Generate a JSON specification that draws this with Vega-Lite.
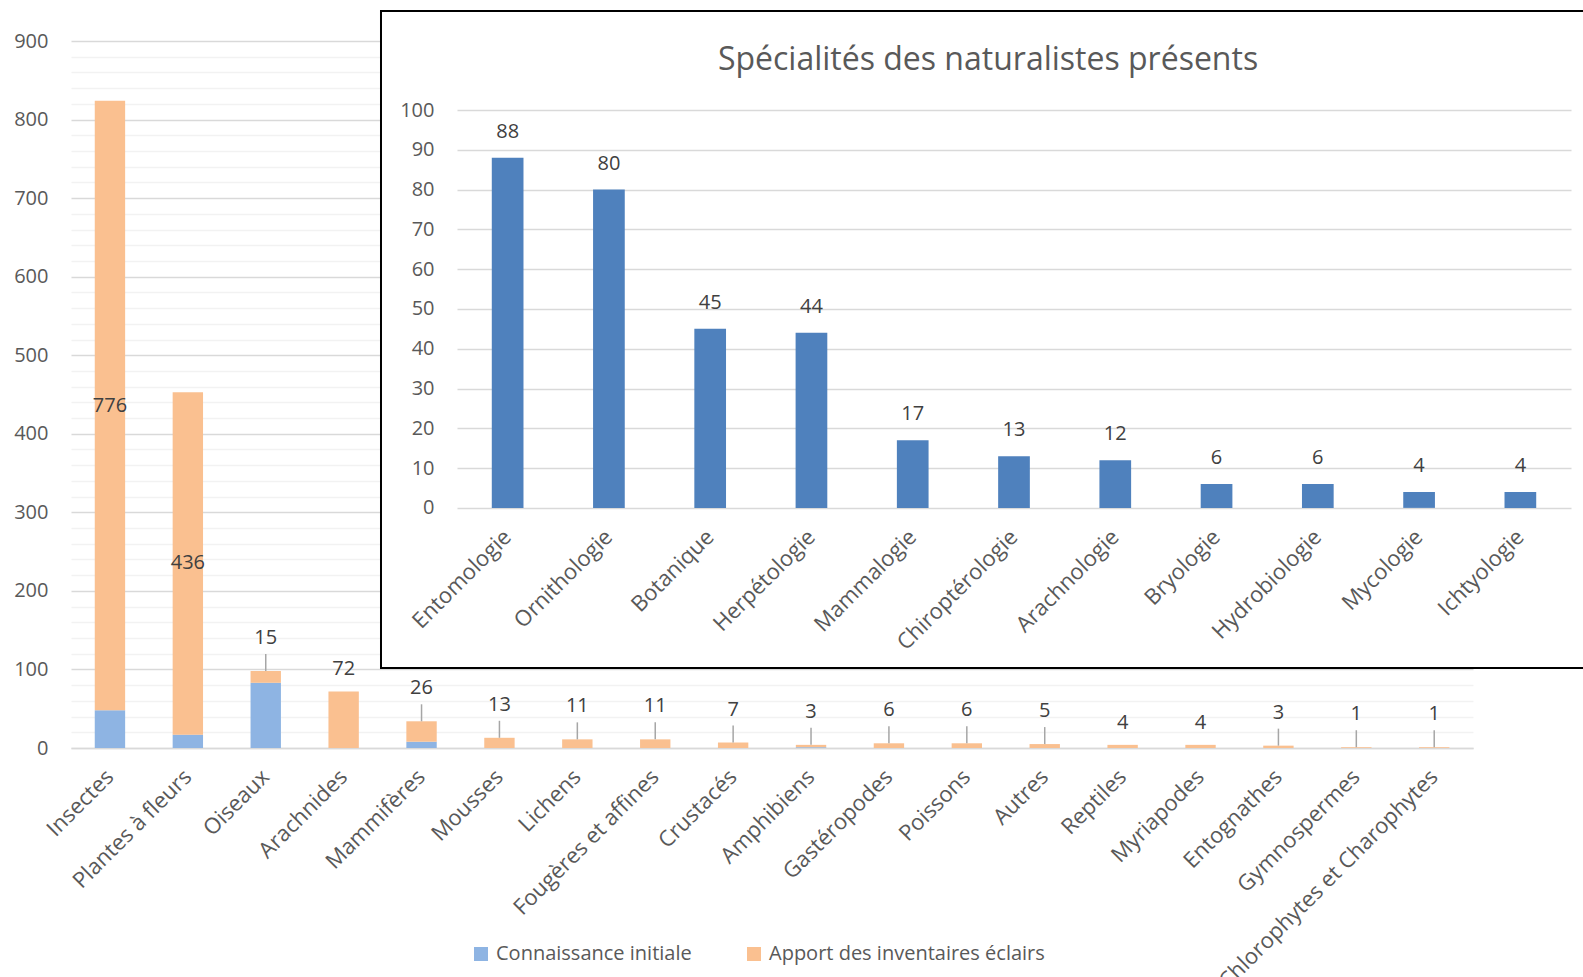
{
  "$schema": "https://vega.github.io/schema/vega-lite/v6.json",
  "width": 1512,
  "height": 737,
  "autosize": "none",
  "padding": {"left": 71, "top": 11, "right": 0, "bottom": 229},
  "config": {
    "view": {"stroke": null},
    "font": "Open Sans",
    "axis": {"labelFont": "Open Sans"},
    "legend": {"labelFont": "Open Sans"},
    "title": {"font": "Open Sans"}
  },
  "title": {"text": "Spécialités des naturalistes présents", "frame": "group", "anchor": "middle", "offset": -67, "dx": 161, "fontSize": 32, "fontWeight": "normal", "color": "#595959"},
  "datasets": {
    "groupes": [
      {"groupe": "Insectes", "serie": "Connaissance initiale", "n": 48},
      {"groupe": "Insectes", "serie": "Apport des inventaires éclairs", "n": 776},
      {"groupe": "Plantes à fleurs", "serie": "Connaissance initiale", "n": 17},
      {"groupe": "Plantes à fleurs", "serie": "Apport des inventaires éclairs", "n": 436},
      {"groupe": "Oiseaux", "serie": "Connaissance initiale", "n": 83},
      {"groupe": "Oiseaux", "serie": "Apport des inventaires éclairs", "n": 15},
      {"groupe": "Arachnides", "serie": "Connaissance initiale", "n": 0},
      {"groupe": "Arachnides", "serie": "Apport des inventaires éclairs", "n": 72},
      {"groupe": "Mammifères", "serie": "Connaissance initiale", "n": 8},
      {"groupe": "Mammifères", "serie": "Apport des inventaires éclairs", "n": 26},
      {"groupe": "Mousses", "serie": "Connaissance initiale", "n": 0},
      {"groupe": "Mousses", "serie": "Apport des inventaires éclairs", "n": 13},
      {"groupe": "Lichens", "serie": "Connaissance initiale", "n": 0},
      {"groupe": "Lichens", "serie": "Apport des inventaires éclairs", "n": 11},
      {"groupe": "Fougères et affines", "serie": "Connaissance initiale", "n": 0},
      {"groupe": "Fougères et affines", "serie": "Apport des inventaires éclairs", "n": 11},
      {"groupe": "Crustacés", "serie": "Connaissance initiale", "n": 0},
      {"groupe": "Crustacés", "serie": "Apport des inventaires éclairs", "n": 7},
      {"groupe": "Amphibiens", "serie": "Connaissance initiale", "n": 1},
      {"groupe": "Amphibiens", "serie": "Apport des inventaires éclairs", "n": 3},
      {"groupe": "Gastéropodes", "serie": "Connaissance initiale", "n": 0},
      {"groupe": "Gastéropodes", "serie": "Apport des inventaires éclairs", "n": 6},
      {"groupe": "Poissons", "serie": "Connaissance initiale", "n": 0},
      {"groupe": "Poissons", "serie": "Apport des inventaires éclairs", "n": 6},
      {"groupe": "Autres", "serie": "Connaissance initiale", "n": 0},
      {"groupe": "Autres", "serie": "Apport des inventaires éclairs", "n": 5},
      {"groupe": "Reptiles", "serie": "Connaissance initiale", "n": 0},
      {"groupe": "Reptiles", "serie": "Apport des inventaires éclairs", "n": 4},
      {"groupe": "Myriapodes", "serie": "Connaissance initiale", "n": 0},
      {"groupe": "Myriapodes", "serie": "Apport des inventaires éclairs", "n": 4},
      {"groupe": "Entognathes", "serie": "Connaissance initiale", "n": 0},
      {"groupe": "Entognathes", "serie": "Apport des inventaires éclairs", "n": 3},
      {"groupe": "Gymnospermes", "serie": "Connaissance initiale", "n": 0},
      {"groupe": "Gymnospermes", "serie": "Apport des inventaires éclairs", "n": 1},
      {"groupe": "Chlorophytes et Charophytes", "serie": "Connaissance initiale", "n": 0},
      {"groupe": "Chlorophytes et Charophytes", "serie": "Apport des inventaires éclairs", "n": 1}
    ],
    "specialites": [
      {"specialite": "Entomologie", "n": 88},
      {"specialite": "Ornithologie", "n": 80},
      {"specialite": "Botanique", "n": 45},
      {"specialite": "Herpétologie", "n": 44},
      {"specialite": "Mammalogie", "n": 17},
      {"specialite": "Chiroptérologie", "n": 13},
      {"specialite": "Arachnologie", "n": 12},
      {"specialite": "Bryologie", "n": 6},
      {"specialite": "Hydrobiologie", "n": 6},
      {"specialite": "Mycologie", "n": 4},
      {"specialite": "Ichtyologie", "n": 4}
    ]
  },
  "layer": [
    {
      "data": {"name": "groupes"},
      "layer": [
        {
          "mark": {"type": "bar", "width": {"band": 0.39}},
          "encoding": {
            "x": {
              "field": "groupe", "type": "nominal", "sort": null,
              "scale": {
                "domain": ["Insectes", "Plantes à fleurs", "Oiseaux", "Arachnides", "Mammifères", "Mousses", "Lichens", "Fougères et affines", "Crustacés", "Amphibiens", "Gastéropodes", "Poissons", "Autres", "Reptiles", "Myriapodes", "Entognathes", "Gymnospermes", "Chlorophytes et Charophytes"],
                "paddingInner": 0, "paddingOuter": 0.705, "align": 0
              },
              "axis": {"title": null, "orient": "bottom", "labelAngle": -45, "labelBaseline": "middle", "labelFontSize": 22, "labelColor": "#595959", "labelPadding": 25, "ticks": false, "domainColor": "#d9d9d9", "domainWidth": 1.5, "domainDash": [1402, 2000], "labelLimit": 400, "labelOverlap": false}
            },
            "y": {
              "field": "n", "type": "quantitative", "stack": "zero",
              "scale": {"domain": [0, 938.2], "nice": false},
              "axis": {
                "title": null, "orient": "left",
                "values": [0,20,40,60,80,100,120,140,160,180,200,220,240,260,280,300,320,340,360,380,400,420,440,460,480,500,520,540,560,580,600,620,640,660,680,700,720,740,760,780,800,820,840,860,880,900],
                "tickCount": 200,
                "grid": true,
                "gridColor": {"condition": {"test": "datum.value % 100 === 0", "value": "#d9d9d9"}, "value": "#f2f2f2"},
                "gridDash": {"condition": {"test": "datum.value > 100", "value": [310, 2000]}, "value": [1402, 2000]},
                "gridWidth": 1.3,
                "labelExpr": "datum.value % 100 === 0 ? datum.label : ''",
                "labelOverlap": false,
                "labelFontSize": 20, "labelColor": "#595959", "labelPadding": 23,
                "domain": false, "ticks": false
              }
            },
            "color": {
              "field": "serie", "type": "nominal",
              "sort": ["Connaissance initiale", "Apport des inventaires éclairs"],
              "scale": {"domain": ["Connaissance initiale", "Apport des inventaires éclairs"], "range": ["#8eb4e3", "#fac090"]},
              "legend": {"title": null, "orient": "none", "legendX": 400, "legendY": 933, "direction": "horizontal", "symbolType": "square", "symbolSize": 196, "symbolStrokeWidth": 0, "labelFontSize": 20, "labelColor": "#595959", "labelLimit": 400, "columnPadding": 52, "labelOffset": 5, "padding": 0}
            },
            "order": {"field": "serie", "sort": "descending"}
          }
        },
        {
          "transform": [
            {"joinaggregate": [{"op": "sum", "field": "n", "as": "total"}], "groupby": ["groupe"]},
            {"filter": "datum.serie === 'Apport des inventaires éclairs' && indexof(['Insectes','Plantes à fleurs','Arachnides','Reptiles','Myriapodes'], datum.groupe) < 0"}
          ],
          "mark": {"type": "rule", "color": "#a6a6a6", "strokeWidth": 1.5, "y2Offset": -17},
          "encoding": {
            "x": {"field": "groupe", "type": "nominal", "sort": null},
            "y": {"field": "total", "type": "quantitative"},
            "y2": {"field": "total"}
          }
        },
        {
          "transform": [
            {"joinaggregate": [{"op": "sum", "field": "n", "as": "total"}], "groupby": ["groupe"]},
            {"filter": "datum.serie === 'Apport des inventaires éclairs' && indexof(['Insectes','Plantes à fleurs','Arachnides','Reptiles','Myriapodes'], datum.groupe) < 0"}
          ],
          "mark": {"type": "text", "baseline": "middle", "dy": -33, "fontSize": 20, "color": "#404040"},
          "encoding": {
            "x": {"field": "groupe", "type": "nominal", "sort": null},
            "y": {"field": "total", "type": "quantitative"},
            "text": {"field": "n", "type": "quantitative"}
          }
        },
        {
          "transform": [
            {"joinaggregate": [{"op": "sum", "field": "n", "as": "total"}], "groupby": ["groupe"]},
            {"filter": "datum.serie === 'Apport des inventaires éclairs' && indexof(['Arachnides','Reptiles','Myriapodes'], datum.groupe) >= 0"}
          ],
          "mark": {"type": "text", "baseline": "middle", "dy": -22, "fontSize": 20, "color": "#404040"},
          "encoding": {
            "x": {"field": "groupe", "type": "nominal", "sort": null},
            "y": {"field": "total", "type": "quantitative"},
            "text": {"field": "n", "type": "quantitative"}
          }
        },
        {
          "transform": [
            {"filter": "datum.groupe === 'Insectes' || datum.groupe === 'Plantes à fleurs'"},
            {"stack": "n", "groupby": ["groupe"], "sort": [{"field": "serie", "order": "descending"}], "as": ["v0", "v1"]},
            {"filter": "datum.serie === 'Apport des inventaires éclairs'"},
            {"fold": ["v0", "v1"], "as": ["k", "pos"]}
          ],
          "mark": {"type": "text", "baseline": "middle", "fontSize": 20, "color": "#404040"},
          "encoding": {
            "x": {"field": "groupe", "type": "nominal", "sort": null},
            "y": {"aggregate": "mean", "field": "pos", "type": "quantitative"},
            "text": {"aggregate": "max", "field": "n", "type": "quantitative"}
          }
        }
      ]
    },
    {
      "data": {"name": "specialites"},
      "layer": [
        {
          "mark": {"type": "bar", "width": {"band": 0.313}, "color": "#4f81bd"},
          "encoding": {
            "x": {
              "field": "specialite", "type": "nominal", "sort": null,
              "scale": {
                "domain": ["Entomologie", "Ornithologie", "Botanique", "Herpétologie", "Mammalogie", "Chiroptérologie", "Arachnologie", "Bryologie", "Hydrobiologie", "Mycologie", "Ichtyologie"],
                "range": [386, 1500],
                "paddingInner": 0, "paddingOuter": 0
              },
              "axis": {"title": null, "orient": "bottom", "offset": -240, "labelAngle": -45, "labelBaseline": "middle", "labelFontSize": 22, "labelColor": "#595959", "labelPadding": 25, "ticks": false, "domain": false, "labelLimit": 400, "labelOverlap": false}
            },
            "y": {
              "field": "n", "type": "quantitative",
              "scale": {"domain": [-60.35, 124.89], "nice": false},
              "axis": {"title": null, "orient": "left", "offset": -386, "values": [0,10,20,30,40,50,60,70,80,90,100], "tickCount": 200, "grid": true, "gridColor": "#d9d9d9", "gridWidth": 1.3, "labelPadding": 23, "labelFontSize": 20, "labelColor": "#595959", "domain": false, "ticks": false, "labelOverlap": false}
            }
          }
        },
        {
          "mark": {"type": "text", "baseline": "middle", "dy": -26, "fontSize": 20, "color": "#404040"},
          "encoding": {
            "x": {"field": "specialite", "type": "nominal", "sort": null},
            "y": {"field": "n", "type": "quantitative"},
            "text": {"field": "n", "type": "quantitative"}
          }
        },
        {
          "transform": [{"aggregate": [{"op": "count", "as": "c"}]}],
          "mark": {"type": "rect", "fill": "white", "fillOpacity": 0, "stroke": "black", "strokeWidth": 2},
          "encoding": {
            "x": {"datum": "Entomologie", "type": "nominal", "bandPosition": -0.7505},
            "x2": {"datum": "Ichtyologie", "bandPosition": 1.2},
            "y": {"datum": 124.89, "type": "quantitative"},
            "y2": {"datum": -40.23}
          }
        }
      ]
    }
  ],
  "resolve": {"scale": {"x": "independent", "y": "independent"}, "axis": {"x": "independent", "y": "independent"}}
}
